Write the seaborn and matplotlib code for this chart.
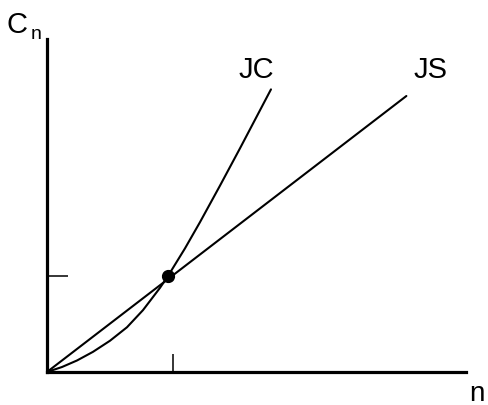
import matplotlib
matplotlib.use("Agg")
import matplotlib.pyplot as plt
import seaborn as sns
import pandas as pd

# values (n on x, C_n on y)
jc_n = [0.0, 0.124, 0.248, 0.380, 0.521, 0.661, 0.793, 0.934, 1.0,
        1.140, 1.264, 1.430, 1.595, 1.851]
jc_c = [0.0, 0.052, 0.120, 0.210, 0.326, 0.466, 0.644, 0.877, 1.0,
        1.287, 1.560, 1.942, 2.330, 2.944]
js_n = [0.0, 2.97]
js_c = [0.0, 2.875]
cross_n = [1.0]
cross_c = [1.0]
x_tick = [1.04]
y_tick = [1.0]

sns.set_style("white")
plt.rcParams['font.family'] = ['Liberation Sans', 'DejaVu Sans']
plt.rcParams['text.color'] = 'black'

W, H = 488, 406
fig = plt.figure(figsize=(W / 100, H / 100), dpi=100)
ax = fig.add_axes([0, 0, 1, 1])

# pixel layout: origin at (47, 373), 121 px per n, 96 px per C
ox, oy, sx, sy = 47, 373, 121, 96
ax.set_xlim(-ox / sx, (W - ox) / sx)
ax.set_ylim(-(H - oy) / sy, oy / sy)

jc = pd.DataFrame({"n": jc_n, "C": jc_c})
js = pd.DataFrame({"n": js_n, "C": js_c})
sns.lineplot(data=jc, x="n", y="C", ax=ax, color="black", lw=1.5, sort=False)
sns.lineplot(data=js, x="n", y="C", ax=ax, color="black", lw=1.5, sort=False)
ax.plot(cross_n, cross_c, "o", color="black", ms=8.5, zorder=5)

# axes as spines through the origin
for s in ["top", "right"]:
    ax.spines[s].set_visible(False)
for s in ["left", "bottom"]:
    ax.spines[s].set_position(("data", 0))
    ax.spines[s].set_color("black")
    ax.spines[s].set_linewidth(2.3)
ax.spines["left"].set_bounds(0, (oy - 40) / sy)
ax.spines["bottom"].set_bounds(0, (466 - ox) / sx)

ax.set_xticks(x_tick)
ax.set_yticks(y_tick)
ax.set_xticklabels([])
ax.set_yticklabels([])
ax.tick_params(axis="x", direction="in", length=13, width=1.1, color="black", bottom=True)
ax.tick_params(axis="y", direction="in", length=15, width=1.1, color="black", left=True)
ax.set_xlabel("")
ax.set_ylabel("")


def px_text(x, y, s, size):
    fig.text(x / W, 1 - y / H, s, fontsize=size, color="black",
             ha="left", va="baseline")


px_text(7, 33, "C", 21)
px_text(31, 39, "n", 14)
px_text(239, 78, "JC", 21)
px_text(414, 78, "JS", 21)
px_text(469, 401, "n", 20)

fig.savefig("out.png", dpi=100)
